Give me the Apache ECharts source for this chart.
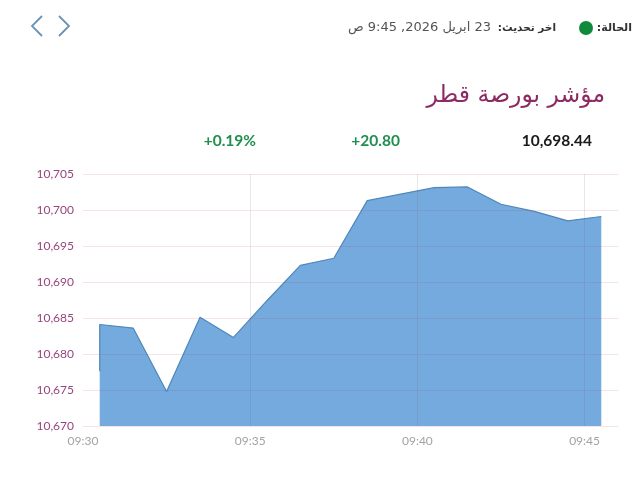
<!DOCTYPE html>
<html>
<head>
<meta charset="utf-8">
<style>
  html, body { margin: 0; padding: 0; background: #fff; }
  #main { width: 640px; height: 480px; }
</style>
<script src="https://cdn.jsdelivr.net/npm/echarts@6/dist/echarts.min.js"></script>
</head>
<body>
<div id="main"></div>
<script>
// vertical start: the first minute has two readings
const times = ['09:30:30', '09:30:30', '09:31:30', '09:32:30', '09:33:30', '09:34:30', '09:35:30', '09:36:30',
  '09:37:30', '09:38:30', '09:39:30', '09:40:30', '09:41:30', '09:42:30', '09:43:30', '09:44:30', '09:45:30'];
const values = [10677.6, 10684.1, 10683.6, 10674.8, 10685.1, 10682.3, 10687.4, 10692.3,
  10693.3, 10701.3, 10702.2, 10703.1, 10703.2, 10700.8, 10699.8, 10698.5, 10699.1];

const indexName = 'مؤشر بورصة قطر';
const lastValue = '10,698.44';
const change = '+20.80';
const changePct = '+0.19%';
// RLE..PDF keeps the colon and numbers in the right place on canvas
const statusLabel = '\u202Bالحالة:\u202C';
const updatedLabel = '\u202Bاخر تحديث:\u202C';
const updatedValue = '\u202B23 ابريل 2026, 9:45 ص\u202C';

const latin = 'Lato, "Noto Sans", sans-serif';
const arabic = '"DejaVu Sans", sans-serif';

const toMinutes = t => {
  const p = t.split(':').map(Number);
  return (p[0] - 9) * 60 + p[1] + p[2] / 60;
};
const fmtTime = m => '09:' + String(Math.round(m)).padStart(2, '0');

const myChart = echarts.init(document.getElementById('main'), null, { renderer: 'canvas' });

const txt = (x, y, text, font, size, fill, align, weight) => ({
  type: 'text', x, y,
  style: { text, fill, align: align, verticalAlign: 'middle', font: (weight || 'normal') + ' ' + size + 'px ' + font }
});
const chevron = pts => ({
  type: 'polyline',
  shape: { points: pts },
  style: { stroke: '#6a93b8', lineWidth: 1.8, fill: 'none' }
});

const option = {
  backgroundColor: '#fff',
  animation: false,
  grid: { left: 83, right: 22, top: 174, height: 252 },
  xAxis: {
    type: 'value',
    min: 30,
    max: 46,
    interval: 5,
    z: 6,
    axisLine: { show: false },
    axisTick: { show: false },
    axisLabel: {
      color: '#a3a3a3',
      fontFamily: latin,
      fontSize: 12,
      margin: 9,
      showMaxLabel: false,
      formatter: v => fmtTime(v)
    },
    splitLine: { show: true, showMinLine: false, showMaxLine: false, lineStyle: { color: 'rgba(130,70,100,0.14)', width: 1 } }
  },
  yAxis: {
    type: 'value',
    min: 10670,
    max: 10705,
    interval: 5,
    z: 6,
    axisLine: { show: false },
    axisTick: { show: false },
    axisLabel: {
      color: '#96457c',
      fontFamily: latin,
      fontSize: 12,
      margin: 9,
      formatter: v => v.toLocaleString('en-US')
    },
    splitLine: { show: true, lineStyle: { color: 'rgba(185,60,115,0.14)', width: 1 } }
  },
  series: [{
    type: 'line',
    data: times.map((t, i) => [toMinutes(t), values[i]]),
    symbol: 'none',
    smooth: false,
    z: 2,
    lineStyle: { color: '#4d88b8', width: 1.2 },
    areaStyle: { color: '#74aadd', opacity: 1, origin: 'start' }
  }],
  graphic: [
    chevron([[42, 16], [32, 26], [42, 36]]),
    chevron([[59, 16], [69, 26], [59, 36]]),
    txt(632, 28, statusLabel, arabic, 11, '#333', 'right', 'bold'),
    { type: 'circle', shape: { cx: 586, cy: 28, r: 7 }, style: { fill: '#0f8a3c' } },
    txt(556, 28, updatedLabel, arabic, 10.5, '#333', 'right', 'bold'),
    txt(491, 28, updatedValue, arabic, 13, '#555', 'right'),
    txt(605, 96, indexName, arabic, 23.5, '#8e2a63', 'right'),
    txt(592, 141, lastValue, latin, 15.5, '#1a1a1a', 'right', 'bold'),
    txt(400, 141, change, latin, 15.5, '#1f8f4d', 'right', 'bold'),
    txt(256, 141, changePct, latin, 15.5, '#1f8f4d', 'right', 'bold')
  ]
};
myChart.setOption(option, true);
</script>
</body>
</html>
